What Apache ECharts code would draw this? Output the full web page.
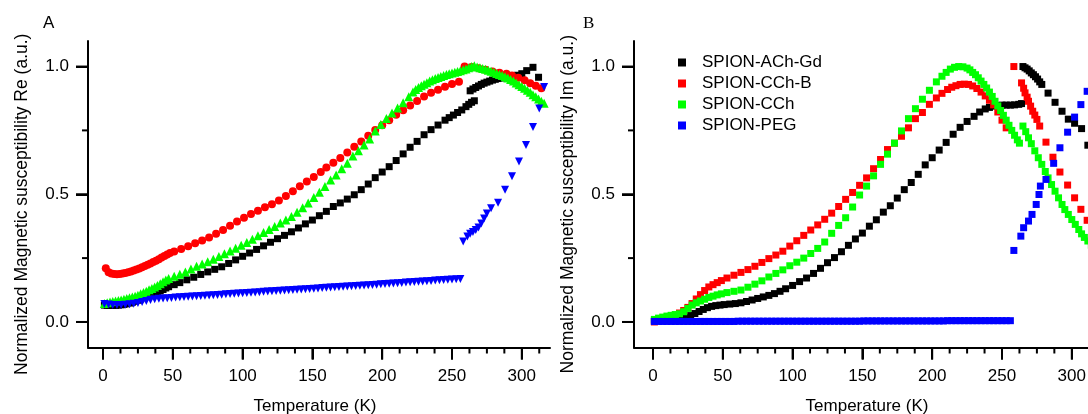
<!DOCTYPE html>
<html>
<head>
<meta charset="utf-8">
<script src="https://cdn.jsdelivr.net/npm/echarts@6.0.0/dist/echarts.min.js"></script>
<style>
html,body{margin:0;padding:0;background:#fff;}
#chart{width:1088px;height:414px;}
</style>
</head>
<body>
<div id="chart"></div>
<script>
// ---------- labels ----------
const seriesNames = ['SPION-ACh-Gd', 'SPION-CCh-B', 'SPION-CCh', 'SPION-PEG'];
const panelLetters = ['A', 'B'];
const xTitle = 'Temperature (K)';
const yTitleRe = 'Normalized Magnetic susceptibility Re (a.u.)';
const yTitleIm = 'Normalized Magnetic susceptibility Im (a.u.)';
const xMajorTicks = [0, 50, 100, 150, 200, 250, 300];
const xMinorTicks = [12.5, 25, 37.5, 62.5, 75, 87.5, 112.5, 125, 137.5, 162.5, 175, 187.5, 212.5, 225, 237.5, 262.5, 275, 287.5, 312.5];
const yMajorTicks = [0, 0.5, 1.0];
const yMinorTicks = [0.25, 0.75];

// ---------- panel A: real part [T (K), value] ----------
const reAChGd = [
[1,0.066],[3,0.065],[5,0.065],[7,0.065],[9,0.065],[11,0.066],[13,0.067],[15,0.069],[17,0.071],[19,0.074],
[21,0.077],[23,0.081],[25,0.085],[27,0.09],[29,0.095],[31,0.099],[33,0.103],[35,0.107],[37,0.111],[39,0.116],
[41,0.121],[43,0.127],[45,0.133],[47,0.138],[51,0.146],[55,0.154],[60,0.165],[65,0.175],[70,0.186],[75,0.196],
[80,0.206],[85,0.216],[90,0.229],[95,0.243],[100,0.257],[105,0.27],[110,0.284],[115,0.298],[120,0.312],[125,0.326],
[130,0.339],[135,0.353],[140,0.368],[145,0.384],[150,0.399],[155,0.416],[160,0.433],[165,0.452],[170,0.466],[175,0.481],
[180,0.498],[185,0.518],[190,0.54],[195,0.565],[200,0.587],[205,0.608],[210,0.632],[215,0.658],[220,0.684],[225,0.707],
[230,0.733],[235,0.753],[240,0.771],[245,0.79],[248,0.8],[251,0.81],[254,0.82],[257,0.83],[260,0.843],[262,0.852],
[264,0.86],[266,0.866],
[263,0.905],[265,0.912],[267,0.918],[269,0.924],[271,0.93],[273,0.935],[275,0.939],[277,0.943],[279,0.947],[281,0.95],
[283,0.953],[285,0.955],[288,0.957],[291,0.96],[294,0.962],[297,0.966],[300,0.972],[303.5,0.984],[308,0.997],[312,0.958]
];
const reCChB = [
[2,0.21],[4,0.195],[6,0.19],[8,0.188],[10,0.187],[12,0.188],[14,0.19],[16,0.192],[18,0.195],[20,0.198],
[22,0.201],[24,0.205],[26,0.209],[28,0.214],[30,0.219],[32,0.224],[34,0.229],[36,0.235],[38,0.24],[40,0.246],
[42,0.252],[44,0.258],[46,0.264],[48,0.27],[51,0.276],[56,0.286],[61,0.296],[66,0.308],[71,0.319],[76,0.331],
[81,0.345],[86,0.36],[91,0.377],[96,0.393],[101,0.408],[106,0.423],[111,0.435],[116,0.449],[121,0.461],[126,0.476],
[131,0.493],[136,0.512],[141,0.531],[146,0.55],[151,0.568],[156,0.587],[160,0.605],[165,0.623],[170,0.642],[175,0.663],
[180,0.686],[185,0.707],[190,0.729],[195,0.752],[200,0.77],[205,0.79],[210,0.811],[215,0.829],[220,0.847],[225,0.865],
[230,0.883],[235,0.897],[240,0.909],[245,0.921],[250,0.932],[255,0.94],
[259,1.0],[264,0.998],[269,0.993],[274,0.987],[279,0.981],[284,0.976],[289,0.972],[293,0.965],[297.5,0.956],[302,0.946],
[306,0.935],[310,0.925],[314,0.915]
];
const reCCh = [
[1,0.072],[3,0.075],[5,0.078],[7,0.08],[9,0.082],[11,0.084],[13,0.086],[15,0.089],[17,0.092],[19,0.095],
[21,0.098],[23,0.101],[25,0.105],[27,0.11],[29,0.115],[31,0.12],[33,0.126],[35,0.131],[37,0.137],[39,0.143],
[41,0.15],[43,0.157],[45,0.164],[47,0.17],[51,0.179],[55,0.187],[59,0.196],[63,0.207],[67,0.218],[71,0.227],
[75,0.236],[79,0.246],[83,0.256],[87,0.267],[91,0.278],[95,0.289],[99,0.3],[103,0.311],[107,0.324],[111,0.338],
[115,0.35],[119,0.362],[123,0.374],[127,0.387],[131,0.399],[135,0.413],[139,0.43],[143,0.447],[147,0.466],[151,0.487],
[155,0.508],[159,0.53],[163,0.556],[167,0.575],[171,0.6],[175,0.621],[179,0.65],[183,0.67],[187,0.693],[191,0.716],
[195,0.748],[199,0.773],[203,0.797],[207,0.818],[211,0.838],[215,0.858],[219,0.882],[222,0.9],[224,0.91],[226,0.918],
[228,0.925],[230,0.931],[232,0.937],[234,0.943],[236,0.948],[238,0.953],[240,0.957],[242,0.961],[244,0.965],[246,0.969],
[248,0.972],[250,0.975],[252,0.978],[254,0.981],[256,0.984],[258,0.987],[260,0.99],[262,0.995],[264,1.0],[266,1.003],
[268,0.998],[270,0.995],[272,0.992],[274,0.989],[276,0.985],[278,0.982],[280,0.978],[282,0.973],[284,0.969],[286,0.965],
[288,0.96],[290,0.955],[292,0.949],[294,0.943],[296,0.936],[298,0.929],[300,0.922],[302,0.915],[304,0.907],[306,0.899],
[308,0.89],[310,0.882],[312,0.873],[314,0.864],[316,0.856]
];
const rePEG = [
[1,0.07],[4,0.068],[7,0.066],[10,0.066],[13,0.066],[16,0.067],[19,0.069],[22,0.071],[25,0.074],[28,0.078],
[31,0.082],[34,0.086],[37,0.089],[40,0.091],[43,0.092],[46,0.093],[49,0.094],[52,0.096],[55,0.097],[58,0.098],
[61,0.099],[64,0.1],[67,0.101],[70,0.102],[73,0.103],[76,0.104],[79,0.105],[82,0.106],[85,0.107],[88,0.108],
[91,0.109],[94,0.11],[97,0.111],[100,0.112],[103,0.113],[106,0.114],[109,0.115],[112,0.116],[115,0.118],[118,0.119],
[121,0.12],[124,0.121],[127,0.122],[130,0.123],[133,0.124],[136,0.125],[139,0.126],[142,0.127],[145,0.128],[148,0.129],
[151,0.13],[154,0.131],[157,0.133],[160,0.134],[163,0.135],[166,0.136],[169,0.137],[172,0.138],[175,0.139],[178,0.14],
[181,0.141],[184,0.142],[187,0.143],[190,0.144],[193,0.145],[196,0.146],[199,0.148],[202,0.149],[205,0.15],[208,0.151],
[211,0.152],[214,0.153],[217,0.154],[220,0.155],[223,0.156],[226,0.157],[229,0.158],[232,0.159],[235,0.16],[238,0.162],
[241,0.163],[244,0.164],[247,0.165],[250,0.166],[253,0.167],[256,0.168],
[258,0.315],[261,0.335],[263,0.345],[265,0.352],[267,0.36],[269,0.37],[271,0.385],[273,0.405],[275,0.425],[278,0.445],
[283,0.467],[288,0.518],[293,0.57],[298,0.628],[303,0.693],[308,0.763],[312.5,0.836],[316,0.92]
];

// ---------- panel B: imaginary part [T (K), value] ----------
const imAChGd = [
[1,0.004],[4,0.006],[8,0.008],[12,0.01],[16,0.012],[20,0.014],[24,0.017],[27,0.025],[30,0.033],[33,0.041],
[36,0.049],[39,0.056],[42,0.061],[45,0.064],[48,0.066],[51,0.068],[55,0.07],[59,0.072],[63,0.075],[67,0.08],
[71,0.086],[75,0.092],[79,0.098],[83,0.104],[87,0.111],[91,0.12],[95,0.13],[100,0.143],[105,0.158],[110,0.172],
[115,0.19],[120,0.21],[125,0.232],[130,0.252],[135,0.275],[140,0.3],[145,0.325],[150,0.348],[155,0.375],[160,0.4],
[165,0.43],[170,0.455],[175,0.485],[180,0.518],[185,0.546],[190,0.578],[195,0.615],[200,0.643],[205,0.673],[210,0.703],
[215,0.735],[220,0.762],[225,0.785],[230,0.805],[234,0.822],[238,0.834],[241,0.84],[244,0.845],[247,0.847],[250,0.849],
[253,0.849],[256,0.849],[259,0.85],[262,0.852],[264,0.855],
[265,1.0],[266.5,0.995],[268,0.99],[269.5,0.983],[271,0.975],[272.5,0.968],[274,0.96],[275.5,0.951],[277,0.94],[278.5,0.93],
[283,0.896],[288,0.86],[293,0.825],[297.5,0.794],[302,0.778],[307,0.757],[311.5,0.692]
];
const imCChB = [
[1,0.0],[4,0.006],[7,0.01],[10,0.016],[13,0.022],[16,0.027],[19,0.035],[22,0.045],[25,0.057],[28,0.072],
[31,0.09],[34,0.107],[37,0.123],[40,0.137],[43,0.146],[46,0.154],[49,0.162],[53,0.172],[58,0.183],[63,0.194],
[68,0.205],[73,0.218],[78,0.233],[83,0.248],[88,0.262],[93,0.277],[98,0.297],[103,0.318],[108,0.339],[113,0.36],
[118,0.38],[123,0.402],[128,0.426],[133,0.452],[138,0.48],[143,0.507],[148,0.535],[153,0.564],[158,0.6],[163,0.636],
[168,0.675],[173,0.7],[178,0.727],[183,0.76],[188,0.796],[193,0.82],[198,0.852],[203,0.877],[207,0.895],[211,0.91],
[214,0.919],[217,0.925],[220,0.93],[223,0.931],[226,0.93],[229,0.924],[232,0.914],[235,0.9],[238,0.885],[241,0.868],
[244,0.85],[247,0.822],[250,0.79],[253,0.76],
[258.5,1.0],[264,0.936],[265.5,0.915],[266.5,0.897],[268,0.88],[269,0.864],[270.5,0.845],[272,0.825],[273.5,0.81],[275,0.793],
[277,0.767],[281.5,0.704],[286.5,0.645],[291.5,0.587],[297,0.536],[302,0.486],[306.5,0.441],[311,0.398]
];
const imCCh = [
[1,0.01],[4,0.015],[7,0.019],[10,0.023],[13,0.026],[16,0.029],[19,0.032],[22,0.04],[25,0.053],[28,0.066],
[31,0.075],[34,0.082],[37,0.089],[40,0.096],[43,0.101],[46,0.106],[49,0.11],[53,0.115],[58,0.12],[63,0.125],
[68,0.136],[73,0.148],[78,0.161],[83,0.176],[88,0.19],[93,0.204],[98,0.22],[103,0.234],[108,0.25],[113,0.268],
[118,0.288],[123,0.313],[128,0.347],[133,0.378],[138,0.408],[143,0.45],[148,0.497],[153,0.532],[158,0.572],[163,0.617],
[168,0.657],[173,0.7],[178,0.748],[183,0.796],[188,0.835],[193,0.872],[198,0.907],[203,0.94],[207,0.962],[210,0.977],
[213,0.99],[216,0.997],[219,1.0],[222,0.999],[225,0.994],[227,0.987],[229,0.977],[231,0.968],[233,0.956],[235,0.943],
[237,0.93],[239,0.916],[241,0.9],[243,0.883],[245,0.864],[247,0.846],[249,0.828],[251,0.809],[253,0.79],[255,0.77],
[257,0.75],[259,0.731],[261,0.713],[262.5,0.7],
[265,0.767],[267,0.745],[269,0.721],[271,0.698],[273.5,0.67],[276,0.643],[278.5,0.617],[281,0.589],[283,0.564],[285.5,0.538],
[288,0.512],[290.5,0.486],[293,0.46],[295,0.44],[297.5,0.421],[300,0.401],[302.5,0.382],[305,0.362],[307,0.345],[309,0.331],
[311.5,0.317],[314,0.3]
];
const imPEG = [
[1,0.002],[4,0.002],[7,0.002],[10,0.002],[13,0.002],[16,0.002],[19,0.002],[22,0.002],[25,0.002],[28,0.002],
[31,0.002],[34,0.002],[37,0.002],[40,0.002],[43,0.002],[46,0.002],[49,0.002],[52,0.002],[55,0.002],[58,0.002],
[61,0.003],[64,0.003],[67,0.003],[70,0.003],[73,0.003],[76,0.003],[79,0.003],[82,0.003],[85,0.003],[88,0.003],
[91,0.003],[94,0.003],[97,0.003],[100,0.003],[103,0.003],[106,0.003],[109,0.003],[112,0.003],[115,0.003],[118,0.003],
[121,0.003],[124,0.003],[127,0.003],[130,0.003],[133,0.003],[136,0.003],[139,0.003],[142,0.003],[145,0.003],[148,0.003],
[151,0.004],[154,0.004],[157,0.004],[160,0.004],[163,0.004],[166,0.004],[169,0.004],[172,0.004],[175,0.004],[178,0.004],
[181,0.004],[184,0.004],[187,0.004],[190,0.004],[193,0.004],[196,0.004],[199,0.004],[202,0.004],[205,0.004],[208,0.004],
[211,0.005],[214,0.005],[217,0.005],[220,0.005],[223,0.005],[226,0.005],[229,0.005],[232,0.005],[235,0.005],[238,0.005],
[241,0.005],[244,0.005],[247,0.005],[250,0.005],[253,0.005],[256,0.005],
[258.5,0.28],[263.5,0.336],[265.5,0.369],[269,0.395],[271.5,0.421],[274.5,0.46],[276.5,0.499],[277.5,0.532],[281.5,0.558],[287,0.621],
[291.5,0.682],[297,0.743],[302,0.802],[306.5,0.851],[311,0.903]
];

// ---------- build ----------
const FONT = "'Liberation Sans', Arial, sans-serif";
const colors = ['#000000', '#ff0000', '#00ff00', '#0000ff'];
const grids = [
  {left: 88, top: 41, width: 462, height: 306.5, outerBoundsMode: 'none', containLabel: false},
  {left: 634, top: 41, width: 466, height: 306.5, outerBoundsMode: 'none', containLabel: false}
];
const xRanges = [[-10.75, 320.2], [-13.6, 320.2]];
const yRange = [-0.1, 1.1];

const xAxes = [0, 1].map(g => ({
  type: 'value', gridIndex: g, position: 'bottom', min: xRanges[g][0], max: xRanges[g][1],
  axisLine: {show: true, onZero: false, lineStyle: {color: '#000', width: 2}},
  axisTick: {show: true, inside: false, customValues: xMajorTicks, length: 12, lineStyle: {color: '#000', width: 2}},
  axisLabel: {customValues: xMajorTicks, margin: 20, color: '#000', fontSize: 17, fontFamily: FONT},
  splitLine: {show: false},
  name: xTitle, nameLocation: 'middle', nameGap: 50,
  nameTextStyle: {color: '#000', fontSize: 17, fontFamily: FONT, padding: g === 0 ? [0, 8, 0, 0] : [0, 0, 0, 0]}
}));
const yAxes = [0, 1].map(g => ({
  type: 'value', gridIndex: g, position: 'left', min: yRange[0], max: yRange[1],
  axisLine: {show: true, onZero: false, lineStyle: {color: '#000', width: 2}},
  axisTick: {show: true, inside: false, customValues: yMajorTicks, length: 12, lineStyle: {color: '#000', width: 2}},
  axisLabel: {customValues: yMajorTicks, margin: 19, color: '#000', fontSize: 17, fontFamily: FONT,
    formatter: v => v.toFixed(1)},
  splitLine: {show: false},
  name: g === 0 ? yTitleRe : yTitleIm, nameLocation: 'middle', nameGap: 57, nameRotate: 90,
  nameTextStyle: {color: '#000', fontSize: 17.5, fontFamily: FONT, padding: [0, 20, 0, 0]}
}));

const reData = [reAChGd, reCChB, reCCh, rePEG];
const imData = [imAChGd, imCChB, imCCh, imPEG];
const reSymbols = ['rect', 'circle', 'triangle', 'triangle'];
const reSizes = [7, 8, 9, 8];
const reRotate = [0, 0, 0, 180];

const series = [];
seriesNames.forEach((name, i) => {
  series.push({
    name: name, type: 'scatter', xAxisIndex: 0, yAxisIndex: 0,
    symbol: reSymbols[i], symbolSize: reSizes[i], symbolRotate: reRotate[i],
    itemStyle: {color: colors[i], opacity: 1}, data: reData[i], z: 2 + i
  });
});
seriesNames.forEach((name, i) => {
  series.push({
    name: name, type: 'scatter', xAxisIndex: 1, yAxisIndex: 1,
    symbol: 'rect', symbolSize: 7,
    itemStyle: {color: colors[i], opacity: 1}, data: imData[i], z: 2 + i
  });
});

// outward tick marks on the plot edges, positioned through each panel's own axes
function tickSeries(g, dim, values, len) {
  return {
    type: 'custom', coordinateSystem: 'cartesian2d', xAxisIndex: g, yAxisIndex: g,
    clip: false, silent: true, z: 10,
    data: values.map(v => dim === 'x' ? [v, yRange[0]] : [xRanges[g][0], v]),
    renderItem: (params, api) => {
      const p = api.coord([api.value(0), api.value(1)]);
      const shape = dim === 'x'
        ? {x: p[0] - 1, y: p[1], width: 2, height: len}
        : {x: p[0] - len, y: p[1] - 1, width: len, height: 2};
      return {type: 'rect', shape: shape, style: {fill: '#000'}};
    }
  };
}
[0, 1].forEach(g => {
  series.push(tickSeries(g, 'x', xMajorTicks, 12));
  series.push(tickSeries(g, 'x', xMinorTicks, 6));
  series.push(tickSeries(g, 'y', yMajorTicks, 12));
  series.push(tickSeries(g, 'y', yMinorTicks, 6));
});

const chart = echarts.init(document.getElementById('chart'), null, {renderer: 'canvas'});
chart.setOption({
  animation: false,
  backgroundColor: '#ffffff',
  grid: grids,
  xAxis: xAxes,
  yAxis: yAxes,
  legend: {
    data: seriesNames, orient: 'vertical', left: 673, top: 49,
    icon: 'rect', itemWidth: 8, itemHeight: 8, itemGap: 4,
    textStyle: {color: '#000', fontSize: 17, fontFamily: FONT, padding: [0, 0, 0, 11]},
    selectedMode: false
  },
  graphic: [
    {type: 'text', left: 43, top: 15, style: {text: panelLetters[0], fontSize: 17, fontFamily: FONT, fill: '#000'}},
    {type: 'text', left: 583, top: 15, style: {text: panelLetters[1], fontSize: 17, fontFamily: "'Liberation Serif', 'Times New Roman', serif", fill: '#000'}}
  ],
  series: series
});
</script>
</body>
</html>
